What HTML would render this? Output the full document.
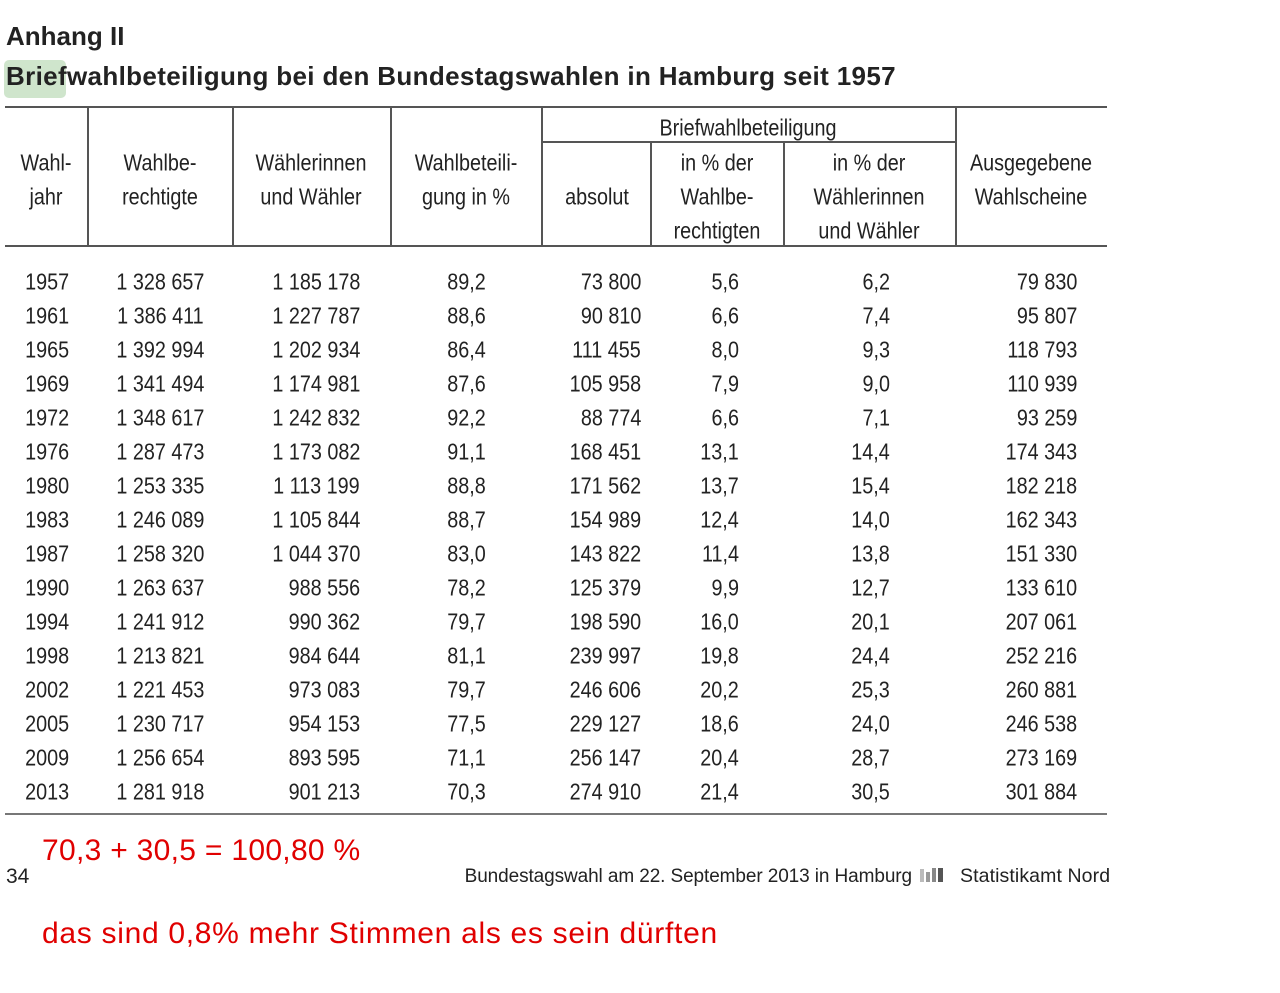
<!DOCTYPE html>
<html><head><meta charset="utf-8"><style>
body{margin:0;width:1280px;height:993px;background:#fff;position:relative;overflow:hidden;font-family:"Liberation Sans",sans-serif;color:#222}
.t{position:absolute;white-space:nowrap;line-height:1}
.n{position:absolute;white-space:nowrap;font-size:23px;line-height:1;transform:translateY(-50%) scaleX(0.86);transform-origin:right center}
.c{transform:translate(-50%,-50%) scaleX(0.86);transform-origin:center center}
.h{position:absolute;background:#555}
.red{position:absolute;color:#e00000;font-family:"Liberation Sans",sans-serif;font-size:30px;white-space:nowrap;line-height:1}
</style></head><body>
<div style="position:absolute;left:4px;top:60px;width:62px;height:38px;background:#cfe5cc;border-radius:5px"></div>
<div class="t" style="left:6px;top:23px;font-weight:bold;font-size:26px;color:#222">Anhang II</div>
<div class="t" style="left:6px;top:63px;font-weight:bold;font-size:26px;color:#222;letter-spacing:0.35px">Briefwahlbeteiligung bei den Bundestagswahlen in Hamburg seit 1957</div>

<div class="h" style="left:5px;top:106px;width:1102px;height:2px"></div>
<div class="h" style="left:5px;top:245px;width:1102px;height:2px"></div>
<div class="h" style="left:5px;top:813px;width:1102px;height:2px;background:#777"></div>
<div class="h" style="left:542px;top:141px;width:414px;height:2px"></div>
<div class="h" style="left:87px;top:107px;width:2px;height:139px"></div>
<div class="h" style="left:232px;top:107px;width:2px;height:139px"></div>
<div class="h" style="left:390px;top:107px;width:2px;height:139px"></div>
<div class="h" style="left:541px;top:107px;width:2px;height:139px"></div>
<div class="h" style="left:955px;top:107px;width:2px;height:139px"></div>
<div class="h" style="left:650px;top:142px;width:2px;height:104px"></div>
<div class="h" style="left:783px;top:142px;width:2px;height:104px"></div>

<div id="hdr"></div>
<div id="rows"></div>

<div class="t" style="left:6px;top:866px;font-size:21px">34</div>
<div class="t" style="right:368px;top:867px;font-size:19px;letter-spacing:-0.1px">Bundestagswahl am 22. September 2013 in Hamburg</div>
<svg style="position:absolute;left:918px;top:866px" width="32" height="18"><rect x="2" y="3" width="4" height="13" fill="#bbb"/><rect x="8" y="6" width="4" height="10" fill="#999"/><rect x="14" y="2" width="4" height="14" fill="#888"/><rect x="20" y="2" width="5" height="14" fill="#555"/></svg>
<div class="t" style="left:960px;top:867px;font-size:19.5px;letter-spacing:0.1px">Statistikamt Nord</div>

<div class="red" style="left:42px;top:836px;letter-spacing:0.3px">70,3 + 30,5 = 100,80 %</div>
<div class="red" style="left:42px;top:919px;letter-spacing:0.7px">das sind 0,8% mehr Stimmen als es sein dürften</div>

<script>
var H=[[46,163,"Wahl-"],[46,197,"jahr"],[160,163,"Wahlbe-"],[160,197,"rechtigte"],[311,163,"Wählerinnen"],[311,197,"und Wähler"],[466,163,"Wahlbeteili-"],[466,197,"gung in %"],[748,128,"Briefwahlbeteiligung"],[597,197,"absolut"],[717,163,"in % der"],[717,197,"Wahlbe-"],[717,231,"rechtigten"],[869,163,"in % der"],[869,197,"Wählerinnen"],[869,231,"und Wähler"],[1031,163,"Ausgegebene"],[1031,197,"Wahlscheine"]];
var s="";
H.forEach(function(h){s+='<div class="n c" style="left:'+h[0]+'px;top:'+h[1]+'px;font-size:23px">'+h[2]+'</div>';});
document.getElementById("hdr").outerHTML=s;
var D=[["1957","1 328 657","1 185 178","89,2","73 800","5,6","6,2","79 830"],
["1961","1 386 411","1 227 787","88,6","90 810","6,6","7,4","95 807"],
["1965","1 392 994","1 202 934","86,4","111 455","8,0","9,3","118 793"],
["1969","1 341 494","1 174 981","87,6","105 958","7,9","9,0","110 939"],
["1972","1 348 617","1 242 832","92,2","88 774","6,6","7,1","93 259"],
["1976","1 287 473","1 173 082","91,1","168 451","13,1","14,4","174 343"],
["1980","1 253 335","1 113 199","88,8","171 562","13,7","15,4","182 218"],
["1983","1 246 089","1 105 844","88,7","154 989","12,4","14,0","162 343"],
["1987","1 258 320","1 044 370","83,0","143 822","11,4","13,8","151 330"],
["1990","1 263 637","988 556","78,2","125 379","9,9","12,7","133 610"],
["1994","1 241 912","990 362","79,7","198 590","16,0","20,1","207 061"],
["1998","1 213 821","984 644","81,1","239 997","19,8","24,4","252 216"],
["2002","1 221 453","973 083","79,7","246 606","20,2","25,3","260 881"],
["2005","1 230 717","954 153","77,5","229 127","18,6","24,0","246 538"],
["2009","1 256 654","893 595","71,1","256 147","20,4","28,7","273 169"],
["2013","1 281 918","901 213","70,3","274 910","21,4","30,5","301 884"]];
var R=[69,204,360,486,641,739,890,1077];
var o="";
D.forEach(function(r,i){var y=282+i*34;
r.forEach(function(v,j){o+='<div class="n" style="right:'+(1280-R[j])+'px;top:'+y+'px">'+v+'</div>';});});
document.getElementById("rows").outerHTML=o;
</script>
</body></html>
